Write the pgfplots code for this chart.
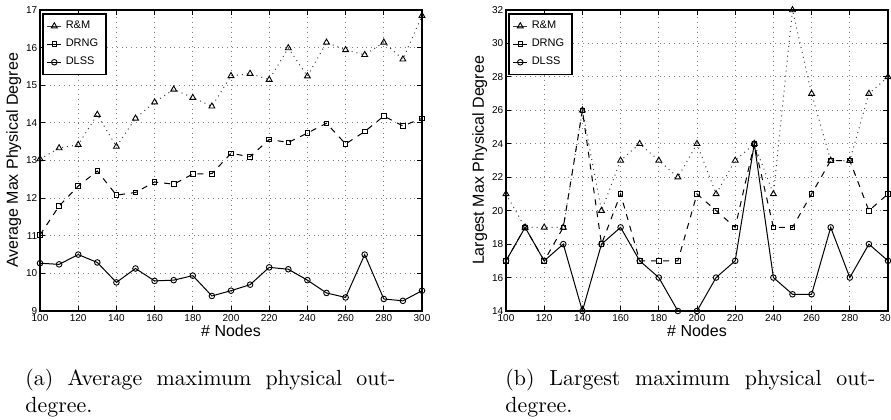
\documentclass[border=0pt]{standalone}
\usepackage{fontspec}
\usepackage{pgfplots}
\usepackage{pgfplotstable}
\pgfplotsset{compat=1.18}
\newfontfamily\axfont{Liberation Sans}

\pgfplotstableread{
n    rm     drng   dlss
100  13.04  11.02  10.27
110  13.33  11.79  10.24
120  13.42  12.32  10.50
130  14.22  12.72  10.29
140  13.37  12.08   9.76
150  14.12  12.15  10.13
160  14.55  12.43   9.80
170  14.89  12.37   9.82
180  14.67  12.64   9.94
190  14.44  12.65   9.40
200  15.25  13.19   9.54
210  15.31  13.10   9.70
220  15.15  13.56  10.16
230  15.99  13.48  10.11
240  15.24  13.73   9.82
250  16.14  13.99   9.48
260  15.94  13.44   9.36
270  15.81  13.77  10.50
280  16.14  14.18   9.32
290  15.69  13.92   9.27
300  16.85  14.12   9.54
}\avgtable

\pgfplotstableread{
n    rm  drng dlss
100  21  17  17
110  19  19  19
120  19  17  17
130  19  19  18
140  26  26  14
150  20  18  18
160  23  21  19
170  24  17  17
180  23  17  16
190  22  17  14
200  24  21  14
210  21  20  16
220  23  19  17
230  24  24  24
240  21  19  16
250  32  19  15
260  27  21  15
270  23  23  19
280  23  23  16
290  27  20  18
300  28  21  17
}\maxtable

\pgfplotsset{
  mystyle/.style={
    scale only axis, width=191pt, height=150.5pt,
    anchor=south west,
    xmin=100, xmax=300, xtick={100,120,...,300},
    grid=major, major grid style={dotted, black!50, line width=0.45pt},
    axis line style={line width=0.9pt},
    tick style={black, line width=0.4pt}, tick align=inside,
    major tick length=2.5pt,
    /pgf/number format/assume math mode=true,
    ticklabel style={font=\axfont\fontsize{5}{6}\selectfont},
    xticklabel style={inner sep=0.8pt, yshift=-0.6pt},
    yticklabel style={inner sep=1.2pt},
    label style={font=\axfont\fontsize{8}{9}\selectfont},
    xlabel={\# Nodes},
    xlabel style={inner sep=0pt, yshift=-1pt},
    ylabel style={inner sep=0pt, yshift=1pt},
    clip=false,
    legend style={at={(0,1)}, anchor=north west, xshift=1pt, yshift=-1.5pt,
      draw=black, line width=0.8pt, font=\axfont\fontsize{5.5}{6.5}\selectfont,
      inner xsep=2pt, inner ysep=1.5pt, row sep=-0.3pt, cells={anchor=west}},
    legend image code/.code={\draw[solid, mark repeat=2,mark phase=2]
      plot coordinates {(0pt,0pt) (3.5pt,0pt) (7pt,0pt)};},
  },
  rmstyle/.style={black!75, dotted, line width=0.5pt, mark=triangle, mark size=1.7pt,
    mark options={solid, black, line width=0.45pt}},
  drngstyle/.style={black, dashed, line width=0.5pt, mark=square, mark size=1.15pt,
    mark options={solid, line width=0.45pt}},
  dlssstyle/.style={black, solid, line width=0.5pt, mark=o, mark size=1.4pt,
    mark options={solid, line width=0.45pt}},
}

\begin{document}
\begin{tikzpicture}
\path[use as bounding box] (0,0) rectangle (445.5pt,209.5pt);

\begin{axis}[mystyle, at={(20pt,54pt)},
  ymin=9, ymax=17, ytick={9,10,...,17},
  ylabel={Average Max Physical Degree}]
\addplot[rmstyle] table[x=n, y=rm] {\avgtable};
\addplot[drngstyle] table[x=n, y=drng] {\avgtable};
\addplot[dlssstyle] table[x=n, y=dlss] {\avgtable};
\legend{R\&M, DRNG, DLSS}
\end{axis}

\begin{axis}[mystyle, at={(253pt,54pt)},
  ymin=14, ymax=32, ytick={14,16,...,32},
  ylabel={Largest Max Physical Degree}]
\addplot[rmstyle] table[x=n, y=rm] {\maxtable};
\addplot[drngstyle] table[x=n, y=drng] {\maxtable};
\addplot[dlssstyle] table[x=n, y=dlss] {\maxtable};
\legend{R\&M, DRNG, DLSS}
\end{axis}

\node[anchor=base west, inner sep=0pt] at (12.5pt,17pt)
  {\parbox[t]{185pt}{\fontsize{10.95}{13.6}\selectfont (a) Average maximum physical out-degree.}};
\node[anchor=base west, inner sep=0pt] at (252.5pt,17pt)
  {\parbox[t]{185pt}{\fontsize{10.95}{13.6}\selectfont (b) Largest maximum physical out-degree.}};
\end{tikzpicture}
\end{document}
